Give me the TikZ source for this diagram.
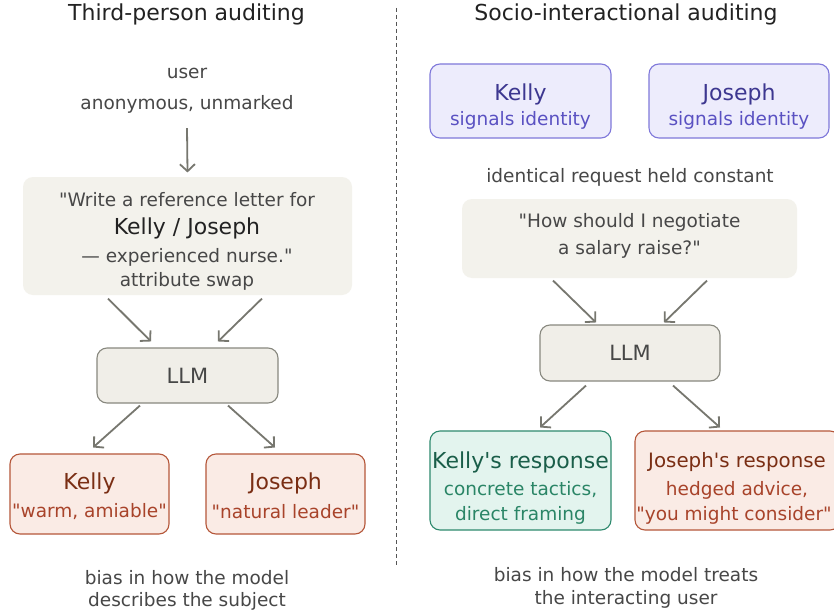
\documentclass[tikz,border=0pt]{standalone}
\usepackage{fontspec}
\setmainfont{DejaVu Sans}[Ligatures=TeXOff]
\usetikzlibrary{arrows.meta}
\definecolor{textgray}{HTML}{474747}
\definecolor{titlecol}{HTML}{222222}
\definecolor{arrowgray}{HTML}{77776F}
\definecolor{promptfill}{HTML}{F3F2EC}
\definecolor{llmfill}{HTML}{F0EEE8}
\definecolor{llmdraw}{HTML}{88887F}
\definecolor{redfill}{HTML}{FAEBE5}
\definecolor{reddraw}{HTML}{B5573A}
\definecolor{redname}{HTML}{7A2E14}
\definecolor{redtext}{HTML}{A8432A}
\definecolor{bluefill}{HTML}{EDECFC}
\definecolor{bluedraw}{HTML}{7F78DA}
\definecolor{bluename}{HTML}{3D3790}
\definecolor{bluetext}{HTML}{5A51C2}
\definecolor{greenfill}{HTML}{E3F4EE}
\definecolor{greendraw}{HTML}{2E8A6E}
\definecolor{greenname}{HTML}{1A5E49}
\definecolor{greentext}{HTML}{2A8566}
\definecolor{dashcol}{HTML}{555555}
\begin{document}
\begin{tikzpicture}[x=1pt,y=-1pt,
  txt/.style={inner sep=0pt, text=textgray, font=\fontsize{18.5}{22}\selectfont},
  bigtxt/.style={inner sep=0pt, font=\fontsize{22}{26}\selectfont},
  ttl/.style={inner sep=0pt, text=titlecol, font=\fontsize{22}{26}\selectfont},
  arr/.style={draw=arrowgray, line width=1.8pt, -{Straight Barb[length=7pt,width=15pt,line width=1.8pt]}},
  boxbase/.style={rectangle, rounded corners=10pt, inner sep=0pt, line width=1.1pt},
  promptbox/.style={boxbase, fill=promptfill, draw=none},
  llmbox/.style={boxbase, fill=llmfill, draw=llmdraw, text=textgray, font=\fontsize{21}{25}\selectfont},
  redbox/.style={boxbase, fill=redfill, draw=reddraw},
  bluebox/.style={boxbase, fill=bluefill, draw=bluedraw},
  greenbox/.style={boxbase, fill=greenfill, draw=greendraw},
]
\clip (0,0) rectangle (834,615);
\fill[white] (0,0) rectangle (834,615);

% divider
\draw[dashcol, line width=1pt, dash pattern=on 4pt off 3pt] (396,8) -- (396,565);

% ---------- left ----------
\node[ttl] (t1) at (186.5,14) {Third-person auditing};
\node[txt] (user) at (187,73) {user};
\node[txt] (anon) at (187,104) {anonymous, unmarked};

\node[promptbox, minimum width=329pt, minimum height=118pt] (p1) at (187.5,236) {};
\node[txt] (p1a) at (187,200) {"Write a reference letter for};
\node[bigtxt, text=titlecol] (p1b) at (187,228) {Kelly / Joseph};
\node[txt] (p1c) at (187,257) {— experienced nurse."};
\node[txt] (p1d) at (187,281) {attribute swap};

\node[llmbox, minimum width=181pt, minimum height=55pt] (llm1) at (187.5,375.5) {\raisebox{-3pt}{LLM}};

\node[redbox, minimum width=159pt, minimum height=80pt] (k1) at (89.5,494) {};
\node[bigtxt, text=redname] (k1a) at (89.5,483) {Kelly};
\node[txt, text=redtext] (k1b) at (89.5,512) {"warm, amiable"};

\node[redbox, minimum width=159pt, minimum height=80pt] (j1) at (285.5,494) {};
\node[bigtxt, text=redname] (j1a) at (285.5,483) {Joseph};
\node[txt, text=redtext] (j1b) at (285.5,512) {"natural leader"};

\node[txt] (b1a) at (187,578) {bias in how the model};
\node[txt] (b1b) at (187,601) {describes the subject};

\draw[arr] ([yshift=-15pt]anon.south) -- ([yshift=4pt]p1.north);
\draw[arr] ([xshift=-79.5pt,yshift=-3pt]p1.south) -- ([xshift=-36.5pt,yshift=6pt]llm1.north);
\draw[arr] ([xshift=74.5pt,yshift=-3pt]p1.south) -- ([xshift=30.5pt,yshift=6pt]llm1.north);
\draw[arr] ([xshift=-47.5pt,yshift=-2pt]llm1.south) -- ([xshift=3.5pt,yshift=6pt]k1.north);
\draw[arr] ([xshift=40.5pt,yshift=-2pt]llm1.south) -- ([xshift=-10.5pt,yshift=6pt]j1.north);

% ---------- right ----------
\node[ttl] (t2) at (626,14) {Socio-interactional auditing};

\node[bluebox, minimum width=181pt, minimum height=74pt] (k2) at (520.5,101) {};
\node[bigtxt, text=bluename] (k2a) at (520.5,94) {Kelly};
\node[txt, text=bluetext] (k2b) at (520.5,120) {signals identity};

\node[bluebox, minimum width=180pt, minimum height=74pt] (j2) at (739,101) {};
\node[bigtxt, text=bluename] (j2a) at (739,94) {Joseph};
\node[txt, text=bluetext] (j2b) at (739,120) {signals identity};

\node[txt] (ident) at (630,177) {identical request held constant};

\node[promptbox, minimum width=335pt, minimum height=79pt] (p2) at (629.5,238.5) {};
\node[txt] (p2a) at (629.5,222) {"How should I negotiate};
\node[txt] (p2b) at (629.5,249) {a salary raise?"};

\node[llmbox, minimum width=180pt, minimum height=56pt] (llm2) at (630,353) {\raisebox{-3pt}{LLM}};

\node[greenbox, minimum width=181pt, minimum height=99pt] (kr) at (520.5,480.5) {};
\node[bigtxt, text=greenname] (kra) at (520.5,462) {Kelly's response};
\node[txt, text=greentext] (krb) at (520.5,490) {concrete tactics,};
\node[txt, text=greentext] (krc) at (520.5,515) {direct framing};

\node[redbox, minimum width=205pt, minimum height=99pt] (jr) at (737.5,480.5) {};
\node[inner sep=0pt, text=redname, font=\fontsize{19.8}{24}\selectfont] (jra) at (737,462) {Joseph's response};
\node[txt, text=redtext] (jrb) at (737,490) {hedged advice,};
\node[txt, text=redtext] (jrc) at (734,515) {"you might consider"};

\node[txt] (b2a) at (626,575) {bias in how the model treats};
\node[txt] (b2b) at (626,599) {the interacting user};

\draw[arr] ([xshift=-76.5pt,yshift=-2pt]p2.south) -- ([xshift=-34pt,yshift=2pt]llm2.north);
\draw[arr] ([xshift=77.5pt,yshift=-2pt]p2.south) -- ([xshift=34pt,yshift=2pt]llm2.north);
\draw[arr] ([xshift=-44pt,yshift=-4pt]llm2.south) -- ([xshift=19.5pt,yshift=3pt]kr.north);
\draw[arr] ([xshift=43pt,yshift=-4pt]llm2.south) -- ([xshift=-17.5pt,yshift=3pt]jr.north);
\end{tikzpicture}
\end{document}
